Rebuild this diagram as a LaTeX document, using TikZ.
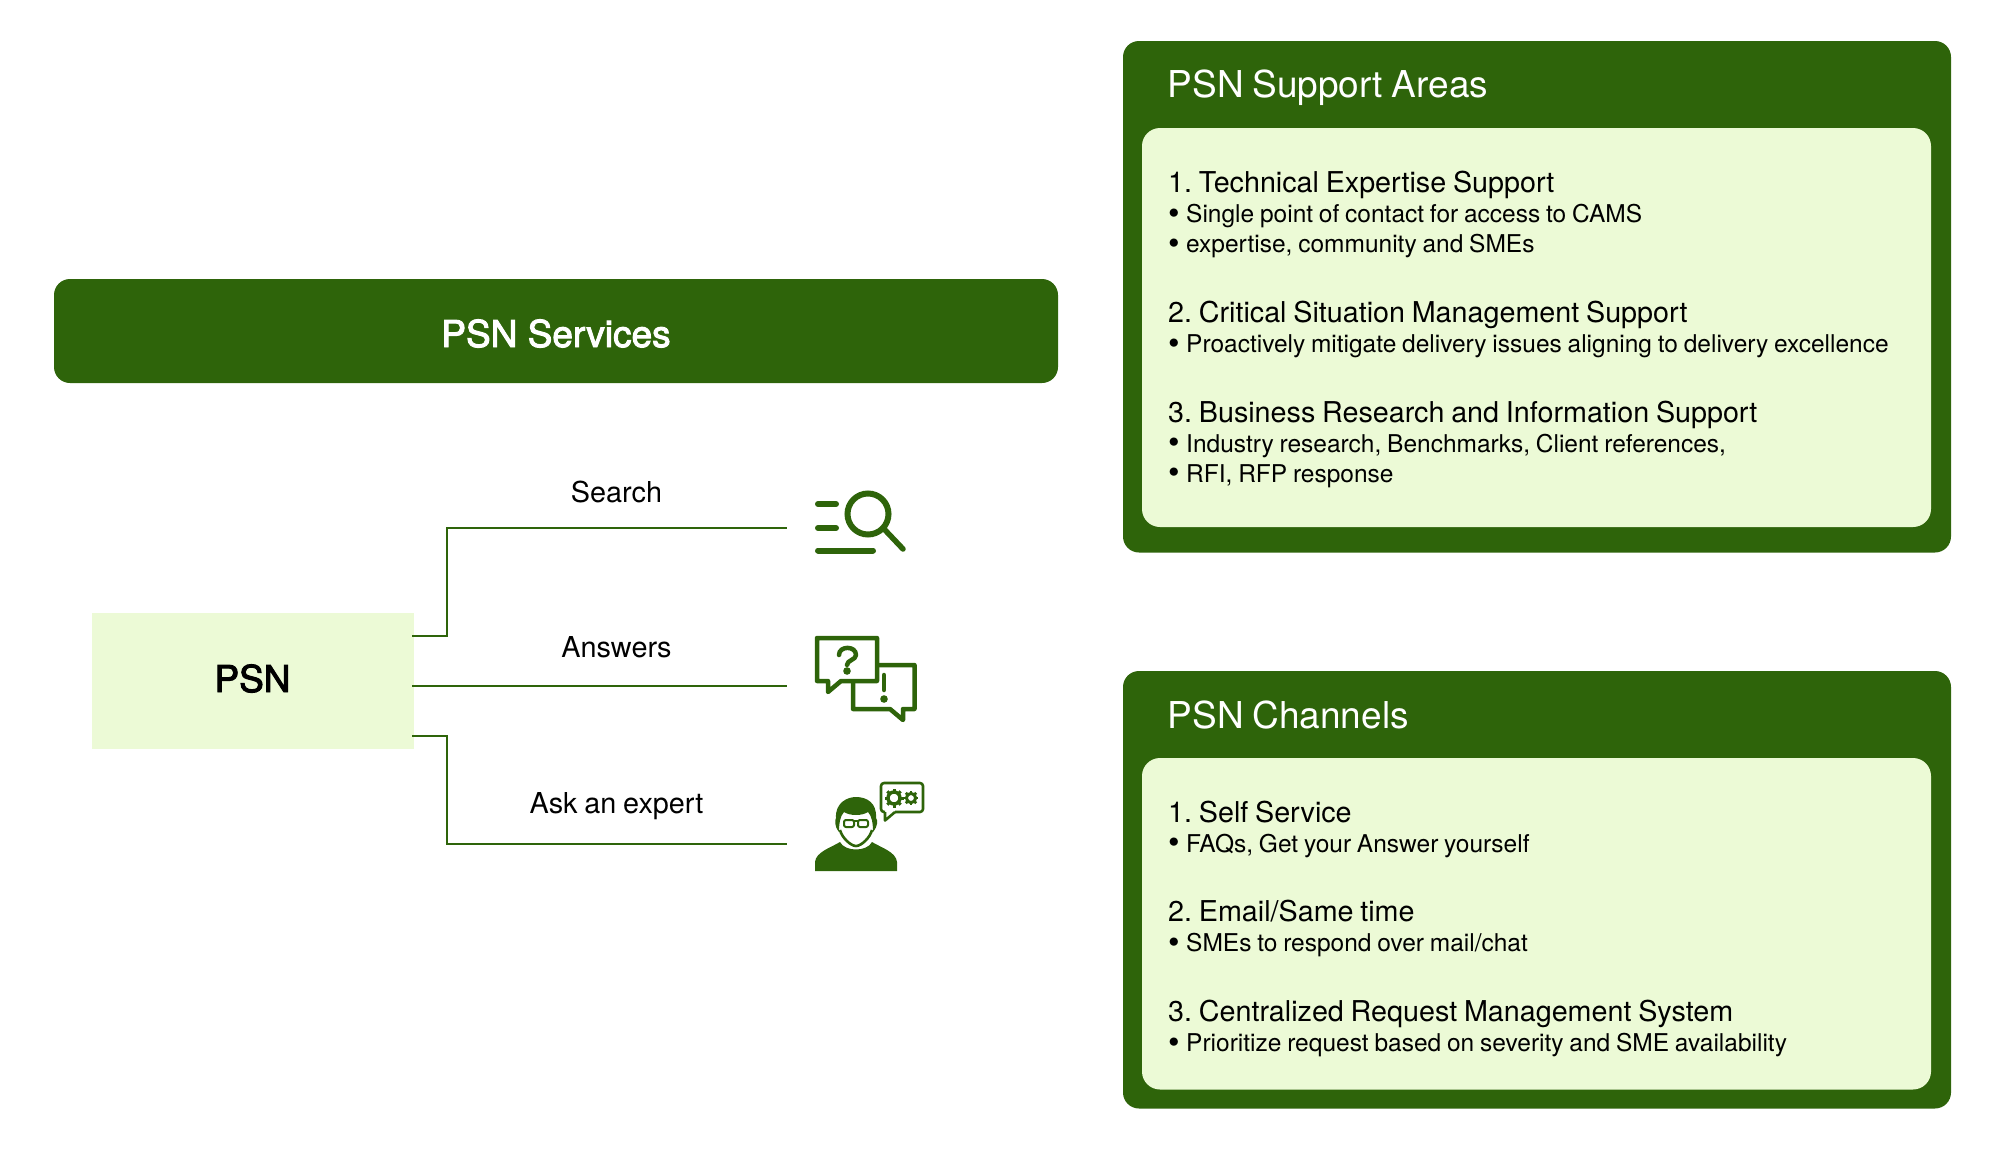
\documentclass[tikz,border=0pt]{standalone}
\usepackage{fontspec}
\setmainfont[WordSpace=0.85]{TeX Gyre Heros}
\newfontfamily\medfont[FakeBold=2.6]{TeX Gyre Heros}
\definecolor{psngreen}{RGB}{46,100,10}
\definecolor{psnlight}{RGB}{236,250,214}
\newcommand{\bul}{\makebox[18pt][l]{\raisebox{-1.6pt}{\fontsize{33}{33}\selectfont\textbullet}}}
\frenchspacing
\tikzset{
 outerbox/.style={fill=psngreen,rounded corners=16pt},
 innerbox/.style={fill=psnlight,rounded corners=18pt},
 boxtitle/.style={anchor=base west,inner sep=0pt,text=white,font=\fontsize{37}{40}\selectfont},
 itemhead/.style={anchor=base west,inner sep=0pt,text=black,font=\fontsize{28.7}{32}\selectfont},
 itemsub/.style={anchor=base west,inner sep=0pt,text=black,font=\fontsize{24.5}{28}\selectfont},
 linklabel/.style={anchor=base,inner sep=0pt,text=black,font=\fontsize{28.8}{32}\selectfont},
 link/.style={draw=psngreen,line width=2pt},
 iconline/.style={draw=psngreen,line width=6pt,line cap=round},
 iconedge/.style={draw=psngreen,line width=4.5pt,line join=round,line cap=round},
 thinicon/.style={draw=psngreen,line width=2.6pt,line join=round}
}
\begin{document}
\begin{tikzpicture}[x=1pt,y=-1pt]
 \useasboundingbox (0,0) rectangle (2005,1151);

 \node[outerbox,minimum width=1004pt,minimum height=104pt] (services) at (556,331) {};
 \node[anchor=base,inner sep=0pt,text=white,font=\fontsize{37}{40}\selectfont\medfont] (servicestext) at (556,347) {PSN Services};
 \node[fill=psnlight,minimum width=322pt,minimum height=136pt,inner sep=0pt] (psn) at (253,681) {};
 \node[anchor=base,inner sep=0pt,text=black,font=\fontsize{37}{40}\selectfont\medfont] (psntext) at (252.5,692) {PSN};

 % connectors
 \coordinate (psnup) at (412,636);
 \coordinate (psnmid) at (412,685.5);
 \coordinate (psndown) at (412,735.5);
 \coordinate (elbowup) at (447,527.5);
 \coordinate (elbowdown) at (447,844);
 \coordinate (searchend) at (787,527.5);
 \coordinate (answersend) at (787,685.5);
 \coordinate (expertend) at (787,844);
 \draw[link] (psnup) -| (elbowup) -- (searchend);
 \draw[link] (psnmid) -- (answersend);
 \draw[link] (psndown) -| (elbowdown) -- (expertend);
 \node[linklabel] (searchlabel) at (616.5,502) {Search};
 \node[linklabel] (answerslabel) at (616.5,657.5) {Answers};
 \node[linklabel] (expertlabel) at (616.5,813.5) {Ask an expert};

 % search icon
 \draw[iconline] (818,504)--(836,504);
 \draw[iconline] (818,528)--(836,528);
 \draw[iconline] (818,550.5)--(873,550.5);
 \draw[iconline] (868,514) circle (20.5);
 \draw[iconline,line width=5.5pt] (885,530)--(903,549);

 % answers icon
 \draw[iconedge] (817,638)--(877,638)--(877,681)--(841,681)--(828,692)--(828,681)--(817,681)--cycle;
 \draw[iconedge] (879,665)--(914.5,665)--(914.5,709)--(903,709)--(903,720)--(890,709)--(853,709)--(853,683);
 \draw[iconedge] (839,655) .. controls (839,645.5) and (856,645.5) .. (856,655) .. controls (856,660) and (847,660) .. (847,665);
 \fill[psngreen] (847,671) circle (3.8);
 \draw[iconedge] (884,675)--(884,690);
 \fill[psngreen] (884,699) circle (3.8);

 % expert icon
 \fill[psngreen] (815,871)--(815,862) .. controls (816,852) and (830,848) .. (840,842) .. controls (845,852) and (867,852) .. (872,842) .. controls (882,848) and (896,852) .. (897,862)--(897,871)--cycle;
 \fill[psngreen] (839,832) .. controls (834,826) and (835,820) .. (836,818) .. controls (835,803) and (847,797) .. (856,797) .. controls (867,797) and (877,803) .. (876,818) .. controls (878,820) and (878,826) .. (873,832) .. controls (873,824) and (872,816) .. (868,812) .. controls (862,816) and (850,816) .. (844,812) .. controls (840,816) and (839,824) .. (839,832) -- cycle;
 \draw[thinicon] (840,830) .. controls (842,838) and (851,846) .. (856,846) .. controls (861,846) and (870,838) .. (872,830);
 \draw[thinicon,line width=2pt,rounded corners=2pt] (844,820) rectangle (854,827);
 \draw[thinicon,line width=2pt,rounded corners=2pt] (858,820) rectangle (868,827);
 \draw[thinicon,line width=2pt] (854,821)--(858,821);
 \draw[thinicon,rounded corners=3pt] (885,812)--(881,812)--(881,783)--(923,783)--(923,812)--(895,812);
 \draw[thinicon] (885,812)--(885,820.5)--(895,812);
 \draw[thinicon,line width=3.4pt] (894,798) circle (6);
 \draw[thinicon,line width=3pt] (911,798) circle (4.6);
 \foreach \ang in {0,45,...,315} {
  \draw[psngreen,line width=3pt] (894,798) ++(\ang:6.5) -- ++(\ang:3);
  \draw[psngreen,line width=2.6pt] (911,798) ++(\ang:5) -- ++(\ang:2.4);
 }

 % support areas
 \node[outerbox,minimum width=828pt,minimum height=511.5pt] (support) at (1537,296.75) {};
 \node[innerbox,minimum width=789pt,minimum height=399pt] (supportin) at (1536.5,327.5) {};
 \node[boxtitle] (supporttitle) at (1167.5,97) {PSN Support Areas};
 \node[itemhead] (techhead) at (1168,192.5) {1. Technical Expertise Support};
 \node[itemsub] (techa) at (1168,222.5) {\bul Single point of contact for access to CAMS};
 \node[itemsub] (techb) at (1168,252.5) {\bul expertise, community and SMEs};
 \node[itemhead] (crithead) at (1168,322.5) {2. Critical Situation Management Support};
 \node[itemsub] (crita) at (1168,352.5) {\bul Proactively mitigate delivery issues aligning to delivery excellence};
 \node[itemhead] (bushead) at (1168,422) {3. Business Research and Information Support};
 \node[itemsub] (busa) at (1168,452) {\bul Industry research, Benchmarks, Client references,};
 \node[itemsub] (busb) at (1168,482) {\bul RFI, RFP response};

 % channels
 \node[outerbox,minimum width=828pt,minimum height=437.5pt] (channels) at (1537,889.75) {};
 \node[innerbox,minimum width=789pt,minimum height=331.5pt] (channelsin) at (1536.5,923.75) {};
 \node[boxtitle] (channelstitle) at (1167.5,728.5) {PSN Channels};
 \node[itemhead] (selfhead) at (1168,822) {1. Self Service};
 \node[itemsub] (selfa) at (1168,852) {\bul FAQs, Get your Answer yourself};
 \node[itemhead] (mailhead) at (1168,921.5) {2. Email/Same time};
 \node[itemsub] (maila) at (1168,951.5) {\bul SMEs to respond over mail/chat};
 \node[itemhead] (reqhead) at (1168,1021.5) {3. Centralized Request Management System};
 \node[itemsub] (reqa) at (1168,1051.5) {\bul Prioritize request based on severity and SME availability};
\end{tikzpicture}
\end{document}
